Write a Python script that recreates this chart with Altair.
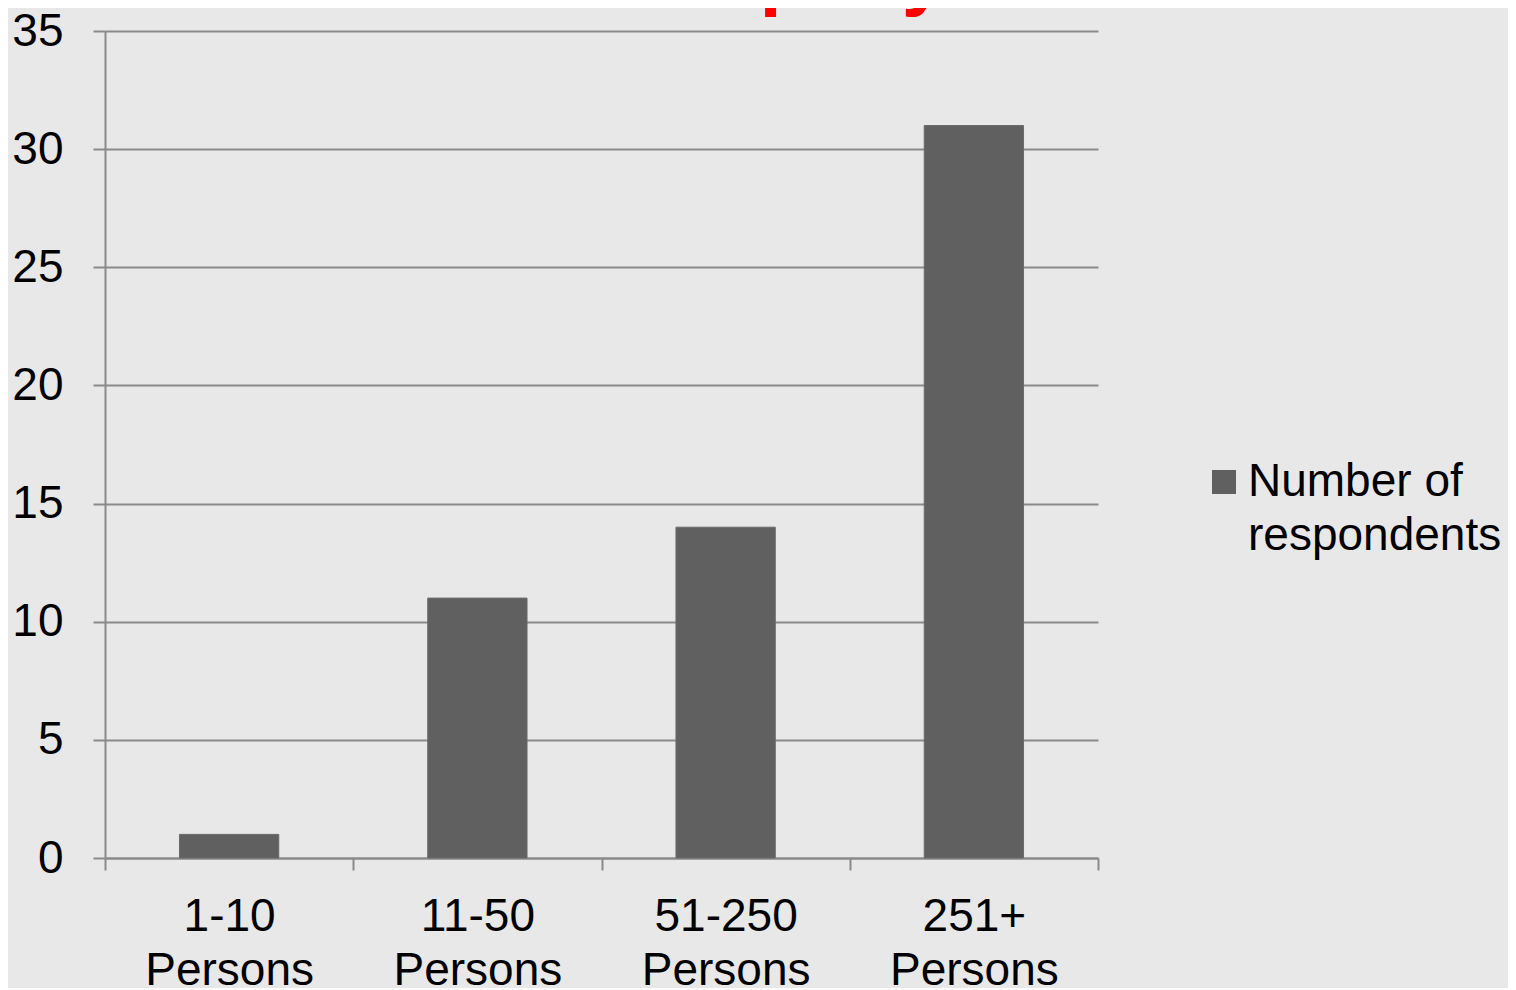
import altair as alt
import pandas as pd

categories = ["1-10 Persons", "11-50 Persons", "51-250 Persons", "251+ Persons"]
values = [1, 11, 14, 31]
series_name = "Number of respondents"
title_text = ["Company"]

df = pd.DataFrame({"size": categories, "count": values, "series": [series_name] * len(categories)})
title_df = pd.DataFrame({"t": title_text})

FONT = "Liberation Sans"
FS = 46

bars = alt.Chart(df).mark_bar(stroke="#6b6b6b", strokeWidth=1,
                              width=alt.RelativeBandSize(0.4)).encode(
    x=alt.X("size:N", sort=categories, title=None,
            scale=alt.Scale(paddingInner=0, paddingOuter=0),
            axis=alt.Axis(labelAngle=0, labelExpr="split(datum.label, ' ')",
                          labelFontSize=FS, labelFont=FONT, labelColor="#000000",
                          labelLineHeight=54, labelPadding=24, labelBaseline="top",
                          tickBand="extent", tickSize=12, tickColor="#8a8a8a", tickWidth=2,
                          domainColor="#8a8a8a", domainWidth=2, grid=False)),
    y=alt.Y("count:Q", title=None,
            scale=alt.Scale(domain=[0, 35], nice=False),
            axis=alt.Axis(values=[0, 5, 10, 15, 20, 25, 30, 35],
                          labelFontSize=FS, labelFont=FONT, labelColor="#000000",
                          labelPadding=30, tickSize=12, tickColor="#8a8a8a", tickWidth=2,
                          gridColor="#8a8a8a", gridWidth=2, domainColor="#8a8a8a", domainWidth=2)),
    fill=alt.Fill("series:N", scale=alt.Scale(range=["#606060"]),
                  legend=alt.Legend(title=None, orient="none", legendX=1096, legendY=428,
                                    symbolType="square", symbolSize=576, symbolStrokeWidth=0,
                                    labelFontSize=FS, labelFont=FONT, labelColor="#000000",
                                    labelExpr="['Number of', 'respondents']",
                                    labelLimit=400, labelOffset=1)),
)

# chart title, mostly cut off at the top edge as in the reference
title = alt.Chart(title_df).mark_text(
    font=FONT, fontSize=80, fontWeight="bold", color="#ff0000",
    align="center", baseline="bottom",
).encode(
    x=alt.value(659),
    y=alt.value(-14),
    text="t:N",
)

chart = alt.layer(bars, title).properties(
    width=993,
    height=827,
    padding={"left": 97, "top": 23, "right": 410, "bottom": 130},
    autosize=alt.AutoSizeParams(type="none"),
    background="#e8e8e8",
).configure(
    style={"guide-label": {"lineHeight": 54}},
    view=alt.ViewConfig(stroke=None),
)

chart.save("out.html", embed_options={"renderer": "svg", "actions": False})
